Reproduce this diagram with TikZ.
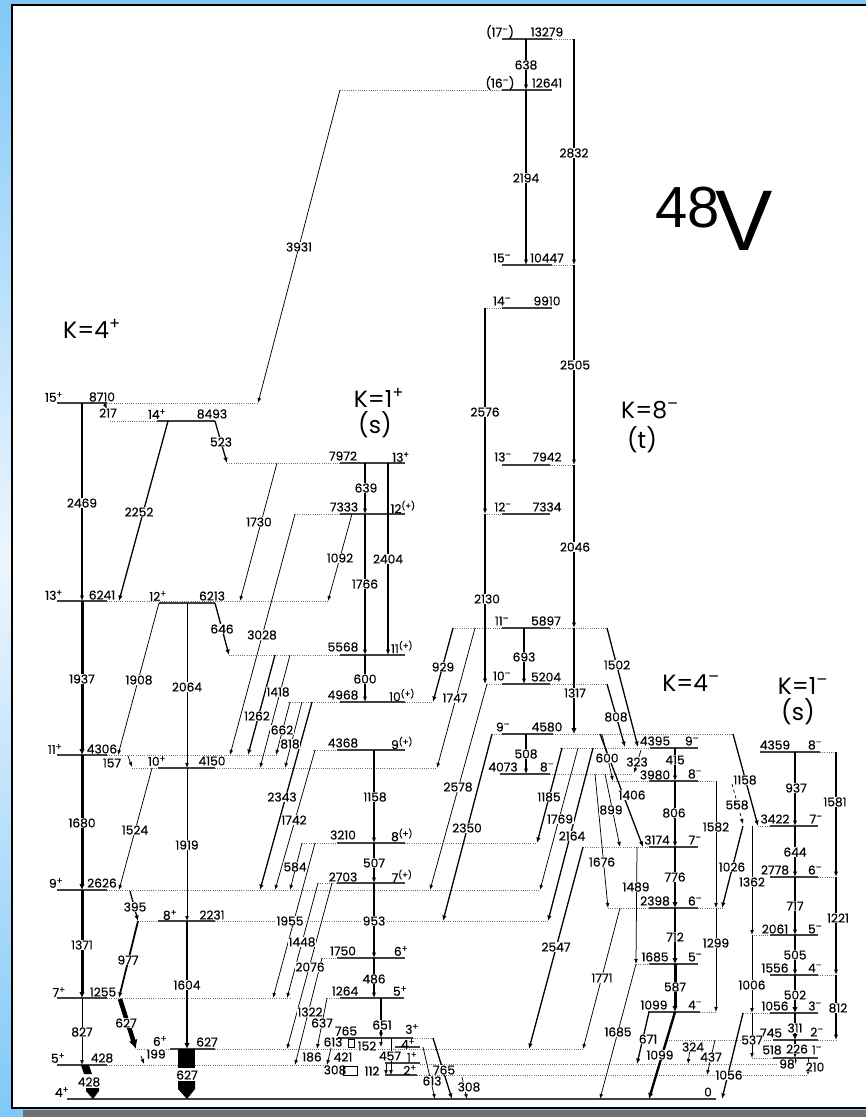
\documentclass[tikz,border=0pt]{standalone}
\usepackage{fontspec}
\setmainfont{Poppins}
\newfontfamily\lblfont{Poppins}[FakeBold=0.35]
\newfontfamily\arialf{Liberation Sans}
\usetikzlibrary{arrows.meta}
\definecolor{bgblue}{RGB}{128,200,248}
\definecolor{bglight}{RGB}{238,246,253}
\definecolor{shadowgray}{RGB}{112,112,112}
\newcommand\spP{\textsuperscript{+}}
\newcommand\spM{\textsuperscript{–}}
\newcommand\spPP{\textsuperscript{(+)}}
\newcount\lblcount
\newcommand\TL[2]{\global\advance\lblcount by 1 \node[tl] (t\the\lblcount) at (#1) {#2};}
\newcommand\LL[2]{\global\advance\lblcount by 1 \node[ll] (l\the\lblcount) at (#1) {#2};}
\begin{document}
\begin{tikzpicture}[x=1pt,y=-1pt,
  lvl/.style={line width=1.5pt, black!75},
  dl/.style={black!55, line width=0.8pt, dash pattern=on 1pt off 1.2pt},
  tr/.style={line width=0.75pt, -{Latex[length=5pt,width=3.8pt]}},
  trm/.style={line width=1.3pt, -{Latex[length=5.5pt,width=4.4pt]}},
  trk/.style={line width=2.4pt, -{Latex[length=6pt,width=5.5pt]}},
  tl/.style={fill=white, inner sep=0.5pt, font=\lblfont\fontsize{12.2}{13}\selectfont},
  ll/.style={inner sep=0pt, font=\lblfont\fontsize{12.2}{13}\selectfont},
  big/.style={inner sep=0pt, font=\fontsize{23.5}{25}\selectfont}]
\useasboundingbox (0,0) rectangle (866,1117);
% background and frame
\shade[top color=bgblue, bottom color=bgblue, middle color=bglight] (0,0) rectangle (866,1117);
\fill[bgblue] (0,0) rectangle (866,4);
\draw[line width=2pt, fill=white] (12,4.5) rectangle (872,1108);
\fill[shadowgray] (23,1110) rectangle (866,1117);

% ---------------- dotted extensions
\draw[dl] (107,403)--(258,403);
\draw[dl] (110,421)--(157,421);
\draw[dl] (227,463)--(340,463);
\draw[dl] (295,514)--(340,514);
\draw[dl] (107,601)--(328,601);
\draw[dl] (229,655)--(340,655);
\draw[dl] (288,702)--(340,702);
\draw[dl] (405,702)--(433,702);
\draw[dl] (313,750)--(337,750);
\draw[dl] (107,755)--(277,755);
\draw[dl] (132,768)--(158,768);
\draw[dl] (215,768)--(437,768);
\draw[dl] (302,843)--(337,843);
\draw[dl] (405,843)--(537,843);
\draw[dl] (318,883)--(337,883);
\draw[dl] (107,890)--(540,890);
\draw[dl] (138,921)--(158,921);
\draw[dl] (215,921)--(548,921);
\draw[dl] (322,958)--(337,958);
\draw[dl] (107,998)--(290,998);
\draw[dl] (327,998)--(340,998);
\draw[dl] (137,1049)--(170,1049);
\draw[dl] (215,1049)--(583,1049);
\draw[dl] (107,1065)--(327,1065);
\draw[dl] (413,1038)--(433,1038);
\draw[dl] (420,1064)--(795,1064);
\draw[dl] (417,1075)--(808,1075);
\draw[dl] (552,39)--(574,39);
\draw[dl] (340,90)--(502,90);
\draw[dl] (552,265)--(574,265);
\draw[dl] (485,308)--(502,308);
\draw[dl] (550,465)--(574,465);
\draw[dl] (485,514)--(502,514);
\draw[dl] (453,628)--(502,628);
\draw[dl] (550,628)--(607,628);
\draw[dl] (487,684)--(502,684);
\draw[dl] (550,684)--(607,684);
\draw[dl] (492,734)--(502,734);
\draw[dl] (553,734)--(733,734);
\draw[dl] (550,774)--(633,774);
\draw[dl] (560,748)--(650,748);
\draw[dl] (612,781)--(649,781);
\draw[dl] (698,781)--(716,781);
\draw[dl] (583,847)--(649,847);
\draw[dl] (608,908)--(649,908);
\draw[dl] (698,908)--(723,908);
\draw[dl] (636,964)--(649,964);
\draw[dl] (700,1012)--(717,1012);
\draw[dl] (820,752)--(836,752);
\draw[dl] (758,826)--(770,826);
\draw[dl] (818,877)--(836,877);
\draw[dl] (752,935)--(770,935);
\draw[dl] (818,975)--(836,975);
\draw[dl] (743,1013)--(770,1013);
\draw[dl] (667,1040)--(773,1040);
\draw[dl] (818,1040)--(836,1040);
\draw[dl] (752,1058)--(773,1058);

% ---------------- levels
\foreach \y/\a/\b in {403/57/107, 421/157/215, 601/57/107, 603/159/215, 755/57/107, 768/158/215,
  890/57/107, 921/158/215, 998/57/107, 1049/170/215, 1065/57/107, 1099/67/716,
  463/340/405, 514/340/405, 655/340/405, 702/340/405, 750/337/405, 843/337/405, 883/337/405,
  958/337/405, 998/340/404, 1038/338/413, 1047/395/420, 1063/385/420, 1075/385/417,
  39/502/552, 90/502/552, 265/502/552, 308/502/552, 465/502/550, 514/502/550, 628/502/550,
  684/502/550, 734/502/553, 774/500/550,
  748/650/698, 781/649/698, 847/649/698, 908/649/698, 964/649/698, 1012/648/700,
  752/760/820, 826/770/818, 877/770/818, 935/770/818, 975/770/818, 1013/770/818, 1040/773/818, 1058/773/818}
  \draw[lvl] (\a,\y)--(\b,\y);
\draw[line width=0.6pt] (348,1039) rectangle (354,1047);
\draw[line width=0.6pt] (343,1066) rectangle (357,1075);

% ---------------- K=4+ transitions
\draw[trm, line width=1.8pt] (82,403)--(82,601);
\draw[trk, line width=3pt] (82,601)--(82,755);
\draw[trk, line width=3pt] (82,755)--(82,890);
\draw[trk, line width=3pt] (82,890)--(82,998);
\draw[tr] (82,998)--(82,1065);
\fill (81,1065)--(89,1065)--(92,1074)--(84,1074)--cycle;
\fill (86,1088)--(99,1088)--(99,1091)--(93,1099)--(86,1091)--cycle;
\draw[tr] (104,403)--(107,409);
\draw[trm] (168,421)--(119,601);
\draw[trm] (215,421)--(227,463);
\draw[tr] (277,463)--(240,601);
\draw[tr] (340,90)--(258,403);
\draw[tr] (352,514)--(328,601);
\draw[tr] (295,514)--(230,755);
\draw[trm] (215,603)--(229,655);
\draw[tr] (159,603)--(118,755);
\draw[tr] (187,603)--(187,768);
\draw[tr] (128,756)--(132,767);
\draw[tr] (152,768)--(119,890);
\draw[tr] (187,768)--(187,921);
\draw[trm] (130,891)--(138,921);
\draw[trm, line width=1.8pt] (138,921)--(119,998);
\draw[trk] (187,921)--(187,1049);
\draw[line width=4.5pt, -{Latex[length=9pt,width=9pt]}] (120,999)--(136,1049);
\draw[tr] (141,1056)--(144,1064);
\fill (178,1049) rectangle (195,1068);
\fill (178,1081)--(195,1081)--(195,1089)--(187,1099)--(178,1089)--cycle;

% ---------------- K=1+ transitions
\draw[trm] (365,463)--(365,514);
\draw[trm] (365,514)--(365,655);
\draw[trm] (365,655)--(365,702);
\draw[trm] (388,463)--(388,655);
\draw[trm] (275,655)--(248,755);
\draw[tr] (290,655)--(260,768);
\draw[tr] (290,702)--(276,755);
\draw[tr] (302,702)--(285,768);
\draw[trm] (312,702)--(260,890);
\draw[tr] (315,750)--(275,890);
\draw[trm] (374,750)--(374,843);
\draw[trm] (374,843)--(374,883);
\draw[trm] (374,883)--(374,958);
\draw[trm] (374,958)--(374,998);
\draw[trm] (381,998)--(381,1038);
\draw[tr] (302,843)--(290,890);
\draw[tr] (315,843)--(273,998);
\draw[tr] (318,883)--(287,998);
\draw[tr] (332,883)--(287,1049);
\draw[tr] (322,958)--(295,1065);
\draw[tr] (327,998)--(317,1049);
\draw[tr] (331,1048)--(327,1065);
\draw[tr] (381,1038)--(381,1047);
\draw[tr] (391,1038)--(391,1075);
\draw[tr] (386,1064)--(386,1075);
\draw[trm] (433,1038)--(452,1099);
\draw[tr] (423,1047)--(435,1099);
\draw[tr] (462,1077)--(467,1099);

% ---------------- top / K=8- transitions
\draw[trm] (526,39)--(526,90);
\draw[trm] (526,90)--(526,265);
\draw[trm] (574,39)--(574,265);
\draw[trm] (574,265)--(574,465);
\draw[trm] (574,465)--(574,628);
\draw[trk, line width=2pt] (574,628)--(574,734);
\draw[trm] (485,308)--(485,514);
\draw[trm] (485,514)--(485,684);
\draw[trm] (524,628)--(524,684);
\draw[trm] (526,734)--(526,774);
\draw[trm] (453,628)--(433,702);
\draw[tr] (475,628)--(437,768);
\draw[tr] (487,684)--(430,890);
\draw[trm] (492,734)--(443,921);
\draw[trm] (562,748)--(537,843);
\draw[tr] (578,748)--(540,890);
\draw[trm] (593,748)--(548,921);
\draw[trm] (583,847)--(529,1049);
\draw[trm] (607,628)--(638,747);
\draw[trm] (607,684)--(625,747);
\draw[tr] (602,734)--(613,781);
\draw[tr] (641,750)--(634,773);
\draw[trm] (600,734)--(643,847);
\draw[tr] (605,774)--(620,847);
\draw[tr] (595,774)--(608,908);
\draw[tr] (637,847)--(636,964);

% ---------------- K=4- transitions
\draw[trm] (675,748)--(675,781);
\draw[trm] (675,781)--(675,847);
\draw[trk, line width=2pt] (675,847)--(675,908);
\draw[trk] (675,908)--(675,964);
\draw[trk, line width=3pt] (675,964)--(675,1012);
\draw[trk] (675,1012)--(649,1099);
\draw[trm] (649,1012)--(637,1064);
\draw[tr] (636,964)--(600,1099);
\draw[tr] (620,908)--(583,1049);
\draw[tr] (716,781)--(716,908);
\draw[tr] (716,908)--(716,1012);
\draw[trm] (733,734)--(758,826);
\draw[tr, dashed] (732,784)--(743,824);
\draw[trm] (743,826)--(722,908);
\draw[tr] (752,826)--(752,935);
\draw[tr] (752,935)--(752,1013);
\draw[tr] (752,1013)--(752,1058);
\draw[trm] (743,1013)--(722,1099);
\draw[tr] (691,1041)--(688,1064);
\draw[tr] (715,1040)--(707,1075);

% ---------------- K=1- transitions
\draw[trm] (795,752)--(795,826);
\draw[trm] (795,826)--(795,877);
\draw[trm] (795,877)--(795,935);
\draw[trm] (795,935)--(795,975);
\draw[trk] (795,975)--(795,1013);
\draw[trk] (795,1013)--(795,1040);
\draw[trm] (795,1040)--(795,1058);
\draw[tr] (795,1058)--(795,1065);
\draw[tr] (808,1058)--(808,1075);
\draw[trm] (836,752)--(836,877);
\draw[trm] (836,877)--(836,975);
\draw[trm] (836,975)--(836,1040);

% ---------------- level labels
\LL{54,397}{15\spP} \LL{102,397}{8710}
\LL{157,414}{14\spP} \LL{212,414}{8493}
\LL{54,595}{13\spP} \LL{102,595}{6241}
\LL{158,596}{12\spP} \LL{212,596}{6213}
\LL{55,749}{11\spP} \LL{102,749}{4306}
\LL{157,761}{10\spP} \LL{212,761}{4150}
\LL{56,883}{9\spP} \LL{102,883}{2626}
\LL{170,915}{8\spP} \LL{212,915}{2231}
\LL{59,992}{7\spP} \LL{103,992}{1255}
\LL{160,1041}{6\spP} \LL{207,1042}{627}
\LL{58,1058}{5\spP} \LL{102,1058}{428}
\LL{62,1092}{4\spP} \LL{708,1092}{0}
\LL{343,456}{7972} \LL{401,457}{13\spP}
\LL{344,507}{7333} \LL{403,507}{12\spPP}
\LL{343,647}{5568} \LL{402,647}{11\spPP}
\LL{343,695}{4968} \LL{402,695}{10\spPP}
\LL{343,743}{4368} \LL{402,743}{9\spPP}
\LL{343,835}{3210} \LL{402,835}{8\spPP}
\LL{343,877}{2703} \LL{402,876}{7\spPP}
\LL{343,951}{1750} \LL{401,951}{6\spP}
\LL{345,991}{1264} \LL{400,991}{5\spP}
\LL{346,1031}{765} \LL{412,1029}{3\spP}
\LL{333,1042}{613} \LL{408,1044}{4\spP}
\LL{343,1057}{421} \LL{412,1057}{1\spP}
\LL{335,1070}{308} \LL{410,1070}{2\spP}
\LL{500,32}{(17\spM)} \LL{547,32}{13279}
\LL{500,83}{(16\spM)} \LL{547,83}{12641}
\LL{502,258}{15\spM} \LL{547,258}{10447}
\LL{502,301}{14\spM} \LL{547,301}{9910}
\LL{503,457}{13\spM} \LL{547,457}{7942}
\LL{503,507}{12\spM} \LL{547,507}{7334}
\LL{502,621}{11\spM} \LL{546,621}{5897}
\LL{502,676}{10\spM} \LL{546,677}{5204}
\LL{503,727}{9\spM} \LL{547,727}{4580}
\LL{503,767}{4073} \LL{547,767}{8\spM}
\LL{655,741}{4395} \LL{692,741}{9\spM}
\LL{655,775}{3980} \LL{695,774}{8\spM}
\LL{657,840}{3174} \LL{695,840}{7\spM}
\LL{655,901}{2398} \LL{695,901}{6\spM}
\LL{655,957}{1685} \LL{695,957}{5\spM}
\LL{654,1005}{1099} \LL{695,1005}{4\spM}
\LL{775,745}{4359} \LL{815,745}{8\spM}
\LL{775,819}{3422} \LL{816,819}{7\spM}
\LL{775,870}{2778} \LL{815,870}{6\spM}
\LL{775,929}{2061} \LL{815,929}{5\spM}
\LL{775,968}{1556} \LL{815,968}{4\spM}
\LL{775,1006}{1056} \LL{815,1006}{3\spM}
\LL{771,1033}{745} \LL{817,1032}{2\spM}
\LL{772,1050}{518} \LL{817,1050}{1\spM}

% ---------------- transition labels
\TL{82,503}{2469} \TL{82,679}{1937} \TL{82,823}{1680} \TL{82,945}{1371} \TL{82,1032}{827} \TL{89,1082}{428}
\TL{108,413}{217} \TL{139,512}{2252} \TL{221,442}{523} \TL{259,522}{1730} \TL{299,247}{3931}
\TL{222,629}{646} \TL{139,680}{1908} \TL{187,687}{2064} \TL{262,635}{3028}
\TL{112,763}{157} \TL{135,830}{1524} \TL{187,845}{1919} \TL{135,907}{395} \TL{128,960}{977}
\TL{187,985}{1604} \TL{126,1023}{627} \TL{187,1075}{627} \TL{156,1054}{199}
\TL{366,488}{639} \TL{340,558}{1092} \TL{365,584}{1766} \TL{388,559}{2404} \TL{365,679}{600}
\TL{278,692}{1418} \TL{257,716}{1262} \TL{282,730}{662} \TL{290,744}{818} \TL{282,797}{2343}
\TL{294,820}{1742} \TL{375,797}{1158} \TL{295,867}{584} \TL{374,863}{507} \TL{374,921}{953}
\TL{290,921}{1955} \TL{302,942}{1448} \TL{310,967}{2076} \TL{374,979}{486} \TL{310,1012}{1322}
\TL{322,1023}{637} \TL{382,1025}{651} \TL{312,1057}{186} \TL{367,1046}{152} \TL{390,1056}{457}
\TL{372,1071}{112} \TL{444,1070}{765} \TL{432,1081}{613} \TL{469,1087}{308}
\TL{526,65}{638} \TL{526,178}{2194} \TL{574,153}{2832} \TL{575,365}{2505} \TL{485,412}{2576}
\TL{575,547}{2046} \TL{487,599}{2130} \TL{524,657}{693} \TL{443,667}{929} \TL{455,698}{1747}
\TL{575,693}{1317} \TL{617,665}{1502} \TL{616,717}{808} \TL{526,754}{508} \TL{607,758}{600}
\TL{637,762}{323} \TL{458,787}{2578} \TL{549,797}{1185} \TL{632,795}{1406} \TL{611,810}{899}
\TL{560,819}{1769} \TL{467,828}{2350} \TL{572,836}{2164} \TL{556,947}{2547} \TL{602,862}{1676}
\TL{636,887}{1489} \TL{602,978}{1771} \TL{618,1032}{1685} \TL{648,1039}{671} \TL{660,1055}{1099}
\TL{675,760}{415} \TL{674,813}{806} \TL{675,877}{776} \TL{675,937}{712} \TL{675,987}{587}
\TL{716,827}{1582} \TL{716,943}{1299} \TL{745,780}{1158} \TL{737,805}{558} \TL{732,867}{1026}
\TL{752,882}{1362} \TL{752,985}{1006} \TL{752,1040}{537} \TL{729,1075}{1056} \TL{693,1047}{324}
\TL{711,1057}{437}
\TL{796,788}{937} \TL{795,852}{644} \TL{795,906}{717} \TL{795,955}{505} \TL{795,995}{502}
\TL{795,1028}{311} \TL{797,1049}{226} \TL{787,1064}{98} \TL{815,1067}{210}
\TL{835,802}{1581} \TL{838,918}{1221} \TL{838,1008}{812}

% ---------------- band titles
\node[big] (k4p) at (92,329) {K=4\spP};
\node[big] (k1p) at (379,398) {K=1\spP};
\node[big] (k1ps) at (375,425) {(s)};
\node[big] (k8m) at (650,410) {K=8\spM};
\node[big] (k8mt) at (642,440) {(t)};
\node[big] (k4m) at (691,683) {K=4\spM};
\node[big] (k1m) at (803,686) {K=1\spM};
\node[big] (k1ms) at (798,712) {(s)};
\node[inner sep=0pt, anchor=base west, font=\arialf\fontsize{58}{60}\selectfont] (n48) at (655,227) {48};
\node[inner sep=0pt, anchor=base west, font=\arialf\fontsize{86}{88}\selectfont] (nV) at (715,250) {V};
\end{tikzpicture}
\end{document}
